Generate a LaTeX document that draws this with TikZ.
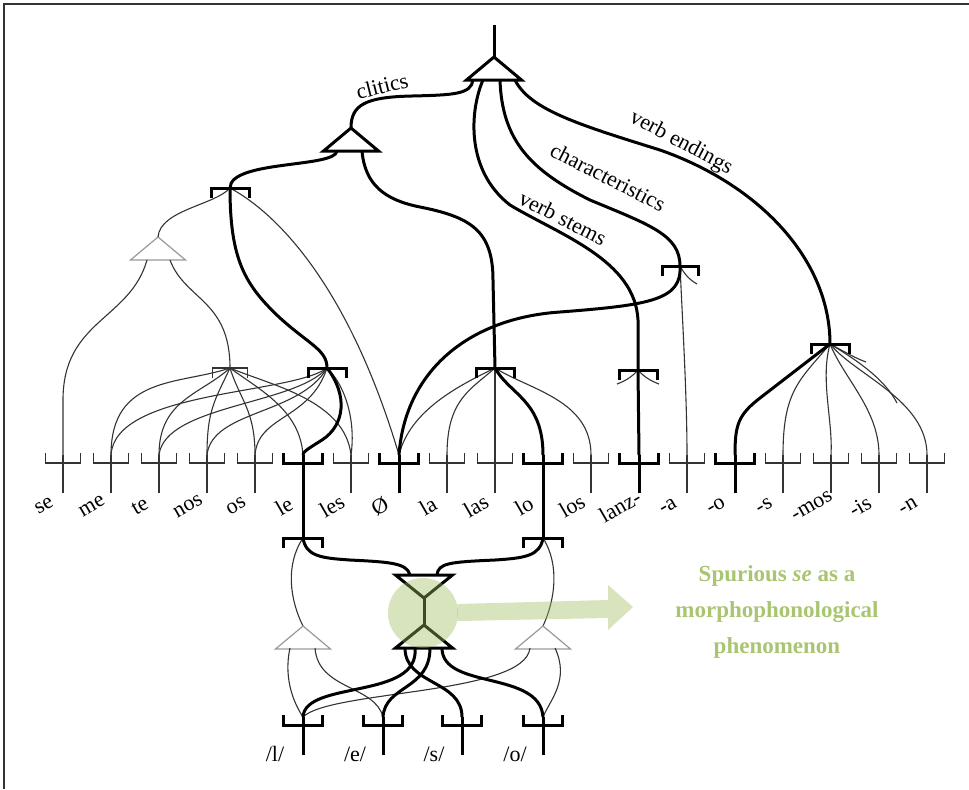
\documentclass[tikz,border=0pt]{standalone}
\usepackage{fontspec}
\setmainfont{Liberation Serif}
\usetikzlibrary{calc}
\definecolor{spurgreen}{HTML}{9BBB59}

% brackets: cap = legs down, cup = legs up
\newcommand{\capbr}[3][thk]{\draw[#1] ($(#2)+(-#3,10)$) -- ++(0,-10) -- ++({2*#3},0) -- ++(0,10);}
\newcommand{\cupbr}[3][thk]{\draw[#1] ($(#2)+(-#3,-2)$) -- ++(0,10) -- ++({2*#3},0) -- ++(0,-10);}
\newcommand{\tri}[2][thk]{\draw[#1] (#2) -- ++(27.5,23) -- ++(-55,0) -- cycle;}

\begin{document}
\begin{tikzpicture}
    [x=0.5pt,y=-0.5pt,
     thk/.style={line width=1.5pt},
     thn/.style={line width=0.55pt,black!80},
     pale/.style={line width=0.6pt,black!40},
     lab/.style={font=\fontsize{11}{13}\selectfont,inner sep=1pt},
     wlab/.style={font=\fontsize{11}{12}\selectfont,inner sep=0pt,rotate=30}]
    \useasboundingbox (0,0) rectangle (969,789);
    \draw[black!80,line width=0.6pt] (969,4) -- (4,4) -- (4,789);

    % points of the tree
    \coordinate (root) at (494,25);
    \coordinate (T) at (494,57);
    \coordinate (C) at (351,128);
    \coordinate (W) at (158,237);
    \coordinate (L) at (230,188);
    \coordinate (S) at (230,368);
    \coordinate (P) at (327,368);
    \coordinate (Q) at (495,368);
    \coordinate (K) at (680,266);
    \coordinate (Z) at (638,370);
    \coordinate (E) at (830,344);
    \coordinate (B1) at (303,538);
    \coordinate (B2) at (543,538);
    \coordinate (Hl) at (410,575);
    \coordinate (Hr) at (437,575);
    \coordinate (WL) at (303,626);
    \coordinate (WR) at (543,626);
    \foreach \n/\dx in {1/-21,2/-11,3/6,4/21}
        \coordinate (Tb\n) at ($(T)+(\dx,23)$);
    \coordinate (Cb1) at ($(C)+(-14,23)$);
    \coordinate (Cb2) at ($(C)+(11,23)$);
    \coordinate (Wb1) at ($(W)+(-11,23)$);
    \coordinate (Wb2) at ($(W)+(12,23)$);
    \coordinate (WL1) at ($(WL)+(-13,22)$);
    \coordinate (WL2) at ($(WL)+(12,22)$);
    \coordinate (WR1) at ($(WR)+(-13,22)$);
    \coordinate (WR2) at ($(WR)+(12,22)$);
    \foreach \n/\x in {1/405,2/415,3/430,4/442}
        \coordinate (Hb\n) at (\x,648);
    \coordinate (Kt) at (697,284);
    \coordinate (Zt1) at (617,384);
    \coordinate (Zt2) at (659,384);
    \coordinate (Et1) at (866,362);
    \coordinate (Et2) at (897,403);
    \foreach \n/\x in {1/303,2/383,3/462,4/543}
        \coordinate (p\n) at (\x,717);

    % words
    \foreach \w [count=\i from 0] in {se,me,te,nos,os,le,les,\O,la,las,lo,los,lanz-,-a,-o,-s,-mos,-is,-n}
    {
        \coordinate (w\i) at ({63+48*\i},455);
        \node[wlab] (lw\i) at ({44+48*\i},506) {\w};
    }
    \foreach \i in {0,1,2,3,4,6,8,9,11,13,15,16,17,18}
    {
        \cupbr[thn]{w\i}{17.5}
        \draw[thn] (w\i) -- ++(0,38);
    }
    \foreach \i in {7,12,14}
    {
        \cupbr{w\i}{19.5}
        \draw[thk] (w\i) -- ++(0,38);
    }
    \cupbr{w5}{19.5}
    \cupbr{w10}{19.5}
    \draw[thk] (w5) -- (B1);
    \draw[thk] (w10) -- (B2);

    % thin links
    \tri[pale]{W}
    \draw[thn] (L) .. controls (215,205) and (160,210) .. (W);
    \draw[thn] (L) .. controls (280,215) and (350,290) .. (w7);
    \draw[thn] (Wb1) .. controls (130,320) and (63,320) .. (63,400) -- (w0);
    \draw[thn] (Wb2) .. controls (185,300) and (230,300) .. (S);
    \capbr[thn]{S}{17.5}
    \draw[thn] (S) .. controls (180,385) and (111,375) .. (w1);
    \draw[thn] (S) .. controls (200,395) and (159,400) .. (w2);
    \draw[thn] (S) .. controls (215,400) and (207,410) .. (w3);
    \draw[thn] (S) .. controls (240,400) and (255,410) .. (w4);
    \draw[thn] (S) .. controls (260,390) and (300,410) .. (w5);
    \draw[thn] (S) .. controls (270,385) and (345,400) .. (w6);
    \draw[thn] (P) .. controls (290,395) and (115,390) .. (w1);
    \draw[thn] (P) .. controls (295,405) and (165,405) .. (w2);
    \draw[thn] (P) .. controls (300,415) and (212,410) .. (w3);
    \draw[thn] (P) .. controls (310,420) and (258,415) .. (w4);
    \draw[thn] (P) .. controls (345,385) and (356,420) .. (w6);
    \draw[thn] (Q) .. controls (460,385) and (410,410) .. (w7);
    \draw[thn] (Q) .. controls (470,390) and (447,400) .. (w8);
    \draw[thn] (Q) -- (w9);
    \draw[thn] (Q) .. controls (530,390) and (591,400) .. (w11);
    \draw[thn] (K) .. controls (683,330) and (687,400) .. (w13);
    \draw[thn] (K) .. controls (685,275) and (690,280) .. (Kt);
    \draw[thn] (Z) .. controls (632,377) and (625,381) .. (Zt1);
    \draw[thn] (Z) .. controls (644,377) and (651,381) .. (Zt2);
    \draw[thn] (E) .. controls (800,380) and (783,390) .. (w15);
    \draw[thn] (E) .. controls (820,380) and (833,420) .. (w16);
    \draw[thn] (E) .. controls (845,380) and (879,410) .. (w17);
    \draw[thn] (E) .. controls (855,375) and (927,400) .. (w18);
    \draw[thn] (E) .. controls (845,352) and (855,358) .. (Et1);
    \draw[thn] (E) .. controls (860,362) and (885,380) .. (Et2);

    % thick links
    \draw[thk] (root) -- (T);
    \tri{T}
    \tri{C}
    \draw[thk] (Tb1) .. controls (471,94) and (455,95) .. (412,96) .. controls (365,97) and (351,105) .. (C);
    \draw[thk] (Tb2) .. controls (470,110) and (465,170) .. (510,205) .. controls (560,235) and (635,260) .. (638,320) -- (Z);
    \draw[thk] (Tb3) .. controls (502,140) and (530,170) .. (590,200) .. controls (650,225) and (680,235) .. (K);
    \draw[thk] (Tb4) .. controls (530,110) and (580,125) .. (660,150) .. controls (760,185) and (830,260) .. (E);
    \draw[thk] (Cb1) .. controls (335,168) and (230,160) .. (L);
    \draw[thk] (Cb2) .. controls (365,185) and (385,200) .. (420,207) .. controls (470,217) and (493,230) .. (493,280) -- (Q);
    \draw[thk] (L) .. controls (230,260) and (245,285) .. (280,318) .. controls (310,345) and (327,350) .. (P);
    \draw[thk] (P) .. controls (348,395) and (345,425) .. (322,440) .. controls (306,450) and (303,452) .. (w5);
    \draw[thk] (Q) .. controls (510,395) and (543,400) .. (w10);
    \draw[thk] (K) .. controls (682,300) and (650,305) .. (560,312) .. controls (470,318) and (405,370) .. (w7);
    \draw[thk] (Z) -- (w12);
    \draw[thk] (E) -- (760,398) .. controls (738,415) and (735,425) .. (w14);
    \foreach \b in {L,P,Q,Z,E}
    {
        \capbr{\b}{19}
    }
    \capbr{K}{18}

    % curve labels
    \node[lab,rotate=14] (clit) at (382,86) {clitics};
    \node[lab,rotate=-27] (vstem) at (563,218) {verb stems};
    \node[lab,rotate=-27] (chars) at (608,177) {characteristics};
    \node[lab,rotate=-28] (vend) at (681,143) {verb endings};

    % lower part
    \capbr{B1}{19.5}
    \capbr{B2}{19.5}
    \draw[thn] (B1) .. controls (285,565) and (290,600) .. (WL);
    \draw[thn] (B2) .. controls (560,565) and (555,600) .. (WR);
    \tri[pale]{WL}
    \tri[pale]{WR}
    \draw[thn] (WL1) .. controls (283,680) and (295,705) .. (p1);
    \draw[thn] (WL2) .. controls (318,690) and (375,685) .. (p2);
    \draw[thn] (WR1) .. controls (525,695) and (330,690) .. (p1);
    \draw[thn] (WR2) .. controls (570,680) and (550,700) .. (p4);
    \draw[thk] (B1) .. controls (306,556) and (320,558) .. (350,560) .. controls (390,562) and (407,563) .. (Hl);
    \draw[thk] (B2) .. controls (540,556) and (525,558) .. (495,560) .. controls (450,562) and (438,563) .. (Hr);
    \draw[thk] (395.5,575) -- (452.5,575) -- (424,598) -- cycle;
    \draw[thk] (424,598) -- (424,625);
    \draw[thk] (424,625) -- (452.5,648) -- (395.5,648) -- cycle;
    \draw[thk] (Hb1) .. controls (405,685) and (462,680) .. (p3);
    \draw[thk] (Hb2) .. controls (420,700) and (305,680) .. (p1);
    \draw[thk] (Hb3) .. controls (430,690) and (385,685) .. (p2);
    \draw[thk] (Hb4) .. controls (442,690) and (540,670) .. (p4);
    \foreach \i/\t in {1/{/l/},2/{/e/},3/{/s/},4/{/o/}}
    {
        \cupbr{p\i}{19.5}
        \draw[thk] (p\i) -- ++(0,38);
        \node[lab] (ph\i) at ($(p\i)+(-28,37)$) {\t};
    }

    % spurious se
    \node[circle,fill=spurgreen,fill opacity=0.4,minimum size=35pt,inner sep=0pt] (glow) at (423,613) {};
    \fill[spurgreen,opacity=0.4] ($(glow.east)+(-1,-9)$) -- (608,600) -- (608,585) -- (633,607) -- (608,630) -- (608,618) -- ($(glow.east)+(-1,8)$) -- cycle;
    \node[font=\fontsize{11.5}{18}\selectfont\bfseries,text=spurgreen!85!white,align=center] (note) at (777,612)
        {Spurious \textit{se} as a\\morphophonological\\phenomenon};
\end{tikzpicture}
\end{document}
